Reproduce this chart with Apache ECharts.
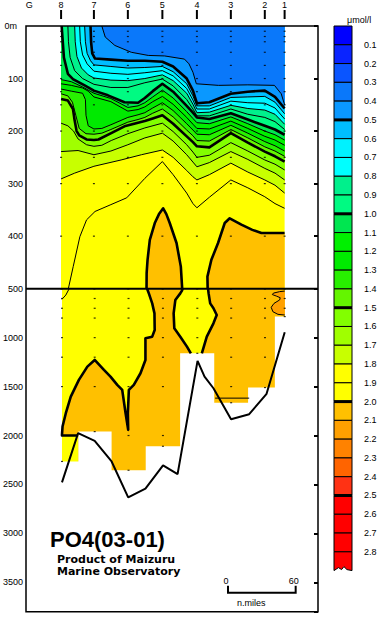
<!DOCTYPE html>
<html>
<head>
<meta charset="utf-8">
<title>PO4(03-01)</title>
<script src="https://cdn.jsdelivr.net/npm/echarts@6.0.0/dist/echarts.min.js"></script>
<style>
html,body{margin:0;padding:0;background:#ffffff;}
#chart{width:382px;height:619px;}
</style>
</head>
<body>
<div id="chart"></div>
<script>
// ================= DATA (distance in n.miles, depth in m) =================
const stationNames = ['8', '7', '6', '5', '4', '3', '2', '1'];
const stationX = [31, 60, 90, 120.5, 151, 181, 211, 228.5];
const stationBottom = [2265, 1960, 2355, 2110, 1160, 1665, 1510, 785];
const sampleDepths = [10, 20, 30, 50, 75, 100, 125, 150, 200, 250, 300, 400, 500, 600, 700, 800, 1000, 1200, 1500, 2000];
const extraLabel = { name: 'G', x: 2.9 };

const seabedX = [31, 45.3, 60, 75, 89.7, 105, 120.6, 133.5, 151.2, 157.4, 165.3, 180.9, 197, 212.4, 228.5];
const seabedDepth = [2479, 1976, 2054, 2265, 2632, 2543, 2305, 2394, 1238, 1398, 1517, 1833, 1782, 1574, 945];

// colour scale (µmol/l): band i covers [i/10, (i+1)/10)
const bandColors = [
  '#0000FF', '#0A24FF', '#0A55FF', '#0A78FA', '#0A98FF',
  '#00BEFF', '#00F2FF', '#00FFFF', '#00F08C', '#00FA82',
  '#00E650', '#00F000', '#00EA00', '#28F000', '#64F500',
  '#82FF00', '#A0FF00', '#C8FF00', '#FFFF00', '#FFFF00',
  '#FFC000', '#FFA000', '#FF8200', '#FF6400', '#FF3214',
  '#FF0000', '#FF0000', '#FF0000', '#FF0000'
];
const colorTicks = [0.1, 0.2, 0.3, 0.4, 0.5, 0.6, 0.7, 0.8, 0.9, 1.0, 1.1, 1.2, 1.3, 1.4, 1.5, 1.6, 1.7, 1.8, 1.9, 2.0, 2.1, 2.2, 2.3, 2.4, 2.5, 2.6, 2.7, 2.8];

// contour lines [distance, depth]
const contour04 = [[67,0],[70,21],[78.5,37],[93,50],[108,56],[122.5,57],[140,63],[144,72],[147.5,88],[150.5,110],[170,113],[196,112],[219.5,113],[225.5,129],[228.5,150]];
const contour05 = [[57,0],[57.5,30],[58.5,52],[61,62],[75,64],[90,66],[105,66],[120.5,68],[130,77],[142,100],[147.5,123],[151,147],[162,145],[181,129],[196,125],[211,123],[220,135],[228.5,157]];
const contour06 = [[51.8,0],[52.5,30],[54,52],[57,66],[60,74],[75,77],[90,80],[105,79],[120.5,77],[130,87],[142,110],[147.5,133],[151,152],[162,152],[181,136],[196,135],[211,134],[220,145],[228.5,167]];
const contour07 = [[47.4,0],[48,30],[50,55],[54,72],[60,86],[75,90],[90,92],[105,89],[120.5,85],[130,95],[142,119],[147.5,141],[151,158],[162,158],[181,143],[196,146],[211,147],[220,156],[228.5,177]];
const contour08 = [[43,0],[43.5,30],[45,58],[49,80],[55,93],[60,99],[75,103],[90,104],[105,100],[120.5,93],[130,104],[142,128],[147.5,149],[151,165],[162,164],[181,151],[196,157],[211,160],[220,168],[228.5,187]];
const contour09 = [[37,0],[37.5,30],[39,60],[43,85],[50,100],[60,111],[75,117],[90,117],[105,108],[120.5,101],[130,114],[142,140],[147.5,158],[151,171],[162,171],[181,158],[196,168],[211,174],[220,182],[228.5,197]];
const contour10 = [[31.5,0],[32.5,30],[33.5,60],[37,91],[41.5,101],[51.8,113],[60,123],[72.4,132],[87,145],[99,146],[105,137],[112,124],[120.5,110],[130,125],[142,152],[147.5,165],[151,174],[162,177],[181,166],[196,178],[211,190],[220,197],[228.5,207]];
const contour11 = [[31,102],[40,106],[50,116],[60,128],[75,138],[90,155],[99,152],[105,146],[112,135],[120.5,122],[130,137],[142,163],[147.5,176],[151,184],[162,186],[181,173],[196,186],[211,200],[220,207],[228.5,217]];
const contour12 = [[31,110],[40,113],[50,118],[55,124],[60,135],[75,144],[90,162],[99,159],[105,154],[112,144],[120.5,134],[130,149],[142,174],[147.5,187],[151,195],[162,196],[181,181],[196,195],[211,210],[220,217],[228.5,227]];
const contour13 = [[31,120],[40,124],[50,128],[52.5,140],[53,170],[55,190],[60,196],[67,195],[75,188],[90,174],[99,169],[105,165],[112,156],[120.5,146],[130,161],[142,186],[147.5,198],[151,206],[162,207],[181,189],[196,204],[211,220],[220,228],[228.5,238]];
const contour14 = [[31,129],[37,133],[41,145],[44,170],[47,195],[53,205],[60,206],[67,204],[75,197],[90,183],[99,178],[105,174],[112,166],[120.5,158],[130,173],[142,198],[147.5,209],[151,218],[162,219],[181,197],[196,213],[211,230],[220,238],[228.5,248]];
const contour15 = [[31,139],[37,142],[41.5,158],[43,180],[44.7,200],[47,208],[53.5,216],[60,217],[64,216],[75.3,204],[87,191],[99,184],[105,181],[112,176],[120.5,170],[130,186],[142,210],[147.5,221],[151,229],[162,231],[181,204],[196,222],[211,239],[220,248],[228.5,258]];
const contour16 = [[31,185],[37,190],[42,200],[46,215],[53.5,226],[60,229],[67,227],[75.3,218],[90,205],[105,194],[120.5,185],[130,201],[142,226],[147.5,240],[151,250],[162,246],[181,222],[196,238],[211,255],[220,263],[228.5,274]];
const contour17 = [[31,239],[46,237],[60,245],[75,238],[90,226],[105,213],[120.5,204],[130,219],[142,245],[147.5,259],[151,268],[162,260],[181,239],[196,254],[211,271],[220,280],[228.5,293]];
const contour18 = [[31,291],[43,280],[60,267],[84,255],[102,245],[120.5,236],[130,250],[142,275],[147.5,287],[151,293],[162,283],[181,261],[196,278],[211,293],[220,303],[228.5,318]];
const contour19 = [[31,608],[34.4,565],[37.4,500],[41.7,458],[47.6,401],[53.5,369],[61,353],[75,340],[89,327],[105,290],[120.5,258],[130,283],[142,318],[147.5,338],[151,346],[162,326],[181,293],[196,308],[211,325],[220,338],[228.5,347]];

// 2.0 contours (higher values enclosed below / inside)
const contour20West = [[45.3,2000],[31,2000],[31,1993],[31.5,1908],[34.4,1772],[38.8,1602],[46,1432],[53.5,1296],[60,1228],[68.2,1330],[74,1398],[80,1483],[84.4,1534],[87.4,1772],[89.7,1942],[89.4,1772],[90.3,1534],[94.7,1483],[100.6,1364],[105,1228],[105,1007],[111,990],[113.2,922],[113,752],[111,650],[108,548],[106.5,500],[106.6,470],[107.4,445],[109.4,407],[113.8,375],[117.5,358],[121.2,347],[124,358],[127,375],[133,413],[136.8,458],[138,500],[137.4,520],[135.9,548],[131.5,616],[130,752],[130.6,905],[135.9,990],[141.8,1092],[145.3,1160]];
const contour20East = [[155,1160],[159.4,990],[165.3,854],[168.2,769],[165.3,700],[162.4,650],[161,548],[160.5,500],[160.3,477],[163.8,445],[169.7,413],[175.6,375],[180,366],[190.3,378],[200,388],[208,394],[219.7,394],[228.5,394]];
const contour21 = [[228.5,524],[224,530],[218.5,545],[217.5,560],[221,575],[224.5,592],[224,615],[219,650],[216.5,690],[218,735],[222.5,762],[228.5,769]];
const station3Line = [[166.8,1618],[197,1618]];

const upperContours = [
  { level: 1.9, pts: contour19 }, { level: 1.8, pts: contour18 }, { level: 1.7, pts: contour17 },
  { level: 1.6, pts: contour16 }, { level: 1.5, pts: contour15 }, { level: 1.4, pts: contour14 },
  { level: 1.3, pts: contour13 }, { level: 1.2, pts: contour12 }, { level: 1.1, pts: contour11 },
  { level: 1.0, pts: contour10 }, { level: 0.9, pts: contour09 }, { level: 0.8, pts: contour08 },
  { level: 0.7, pts: contour07 }, { level: 0.6, pts: contour06 }, { level: 0.5, pts: contour05 },
  { level: 0.4, pts: contour04 }
];

const scaleBar = { start: 178.2, length: 60, depth: 3606 };

// ================= BUILD =================
const DEPTH_MAX = 3800;
const X_MAX = 258;
const xLeft = stationX[0], xRight = stationX[stationX.length - 1];
const FONT = '"Liberation Sans", Arial, Helvetica, sans-serif';

function bandColor(level) { return bandColors[Math.round(level * 10) - 1]; }
function closeDown(pts) {
  const a = pts[0], b = pts[pts.length - 1];
  return pts.concat([[b[0], DEPTH_MAX], [a[0], DEPTH_MAX]]);
}
function maskPolygon() {
  const n = stationX.length, pad = 3, pts = [[xLeft - pad, DEPTH_MAX]];
  for (let i = 0; i < n; i++) {
    const L = i === 0 ? stationX[0] - pad : (stationX[i - 1] + stationX[i]) / 2;
    const R = i === n - 1 ? stationX[n - 1] + pad : (stationX[i] + stationX[i + 1]) / 2;
    pts.push([L, stationBottom[i]], [R, stationBottom[i]]);
  }
  pts.push([xRight + pad, DEPTH_MAX]);
  return pts;
}

const fillShapes = [];
fillShapes.push({ pts: [[xLeft, 0], [xRight, 0], [xRight, DEPTH_MAX], [xLeft, DEPTH_MAX]], color: bandColors[19] });
upperContours.forEach(c => fillShapes.push({ pts: c.pts.concat([[xRight, 0], [xLeft, 0]]), color: bandColor(c.level) }));
fillShapes.push({ pts: closeDown(contour20West), color: bandColors[20] });
fillShapes.push({ pts: closeDown(contour20East), color: bandColors[20] });
fillShapes.push({ pts: contour21, color: bandColors[21] });
fillShapes.push({ pts: maskPolygon(), color: '#FFFFFF' });

const lineShapes = [];
upperContours.forEach(c => {
  const thick = Math.abs(c.level * 2 - Math.round(c.level * 2)) < 1e-6;
  lineShapes.push({ pts: c.pts, w: thick ? 2.6 : 1 });
});
lineShapes.push({ pts: contour20West, w: 2.6 });
lineShapes.push({ pts: contour20East, w: 2.6 });
lineShapes.push({ pts: contour21, w: 1 });
lineShapes.push({ pts: station3Line, w: 1 });

const samplePoints = [];
stationX.forEach((x, i) => {
  sampleDepths.forEach(d => { if (d < stationBottom[i] - 20) samplePoints.push([x, d]); });
  samplePoints.push([x, stationBottom[i]]);
});
const seabed = seabedX.map((x, i) => [x, seabedDepth[i]]);

function clipRect(params) {
  const c = params.coordSys;
  return { type: 'rect', shape: { x: c.x, y: c.y, width: c.width, height: c.height } };
}
function fillSeries(g) {
  return {
    type: 'custom', xAxisIndex: g, yAxisIndex: g * 2, silent: true, z: 1, clip: true,
    data: fillShapes.map((s, i) => [i]),
    renderItem: (params, api) => {
      const s = fillShapes[params.dataIndex];
      return {
        type: 'polygon', z2: params.dataIndex, clipPath: clipRect(params),
        shape: { points: s.pts.map(p => api.coord(p)) },
        style: { fill: s.color, stroke: null }
      };
    }
  };
}
function lineSeries(g) {
  return {
    type: 'custom', xAxisIndex: g, yAxisIndex: g * 2, silent: true, z: 3, clip: true,
    data: lineShapes.map((s, i) => [i]),
    renderItem: (params, api) => {
      const s = lineShapes[params.dataIndex];
      return {
        type: 'polyline', clipPath: clipRect(params),
        shape: { points: s.pts.map(p => api.coord(p)) },
        style: { fill: 'none', stroke: '#000', lineWidth: s.w, lineJoin: 'round' }
      };
    }
  };
}
function dotSeries(g) {
  return {
    type: 'scatter', xAxisIndex: g, yAxisIndex: g * 2, silent: true, z: 4, clip: true,
    symbol: 'rect', symbolSize: [2, 1.2], itemStyle: { color: '#000' }, data: samplePoints
  };
}

const chart = echarts.init(document.getElementById('chart'), null, { renderer: 'svg' });

const axisTextStyle = { color: '#000', fontSize: 9, fontFamily: FONT };

const option = {
  backgroundColor: '#ffffff',
  animation: false,
  grid: [
    { left: 26, top: 26, width: 292, height: 262.7 },
    { left: 26, top: 288.7, width: 292, height: 323 },
    { left: 334, top: 26, width: 18, height: 544.6 }
  ],
  xAxis: [
    { gridIndex: 0, type: 'value', min: 0, max: X_MAX, show: false },
    { gridIndex: 1, type: 'value', min: 0, max: X_MAX, show: false },
    { gridIndex: 2, type: 'value', min: 0, max: 1, show: false }
  ],
  yAxis: [
    { gridIndex: 0, type: 'value', inverse: true, min: 0, max: 500, interval: 100, position: 'left',
      axisLine: { show: false }, axisTick: { show: false }, splitLine: { show: false },
      axisLabel: Object.assign({ margin: 3, showMaxLabel: false,
        formatter: v => v === 0 ? '{z|0m}' : (v >= 500 ? '' : String(v)),
        rich: { z: { fontSize: 9, fontFamily: FONT, color: '#000', padding: [0, 6, 0, 0] } } }, axisTextStyle) },
    { gridIndex: 0, type: 'value', inverse: true, min: 0, max: 500, interval: 100, position: 'right',
      axisLine: { show: false }, axisLabel: { show: false }, splitLine: { show: false },
      axisTick: { show: true, inside: true, length: 4, lineStyle: { color: '#000', width: 2 } } },
    { gridIndex: 1, type: 'value', inverse: true, min: 500, max: DEPTH_MAX, interval: 500, position: 'left',
      axisLine: { show: false }, axisTick: { show: false }, splitLine: { show: false },
      axisLabel: Object.assign({ margin: 4, showMaxLabel: false,
        formatter: v => (v % 500 === 0 && v < DEPTH_MAX) ? String(v) : '' }, axisTextStyle) },
    { gridIndex: 1, type: 'value', inverse: true, min: 500, max: DEPTH_MAX, interval: 500, position: 'right',
      axisLine: { show: false }, axisLabel: { show: false }, splitLine: { show: false },
      axisTick: { show: true, inside: true, length: 4, lineStyle: { color: '#000', width: 2 } } },
    { gridIndex: 2, type: 'value', inverse: true, min: 0, max: 2.9, interval: 0.1, position: 'right',
      axisLine: { show: false }, axisTick: { show: false }, splitLine: { show: false },
      axisLabel: Object.assign({ margin: 12,
        formatter: v => { const t = colorTicks.find(c => Math.abs(c - v) < 1e-6); return t === undefined ? '' : t.toFixed(1); } }, axisTextStyle) }
  ],
  series: [
    fillSeries(0), fillSeries(1),
    lineSeries(0), lineSeries(1),
    dotSeries(0), dotSeries(1),
    { type: 'line', xAxisIndex: 1, yAxisIndex: 2, data: seabed, symbol: 'none', silent: true, z: 5, clip: true,
      lineStyle: { color: '#000', width: 2 } },
    // station ticks and names along the top
    { type: 'custom', xAxisIndex: 0, yAxisIndex: 0, silent: true, z: 6, clip: false,
      data: [[extraLabel.x]].concat(stationX.map(x => [x])),
      renderItem: (params, api) => {
        const i = params.dataIndex;
        const p = api.coord([api.value(0), 0]);
        const name = i === 0 ? extraLabel.name : stationNames[i - 1];
        const children = [{ type: 'text', style: { text: name, x: p[0], y: p[1] - 21, align: 'center', verticalAlign: 'middle', font: '9px ' + FONT, fill: '#000' } }];
        if (i > 0) children.push({ type: 'rect', shape: { x: p[0] - 1, y: p[1] - 16, width: 2, height: 9 }, style: { fill: '#000' } });
        return { type: 'group', children };
      } },
    // colour scale boxes
    { type: 'custom', xAxisIndex: 2, yAxisIndex: 4, silent: true, z: 6, clip: false,
      data: bandColors.map((c, i) => [i]),
      renderItem: (params, api) => {
        const i = params.dataIndex;
        const a = api.coord([0, i / 10]), b = api.coord([1, (i + 1) / 10]);
        const x0 = a[0], x1 = b[0], y0 = a[1], y1 = b[1], w = x1 - x0;
        let pts;
        if (i === bandColors.length - 1) {
          pts = [[x0, y0], [x1, y0], [x1, y1], [x0 + 0.72 * w, y1 - 1], [x0 + 0.55 * w, y1 - 4], [x0 + 0.42 * w, y1 - 1], [x0 + 0.25 * w, y1 - 3], [x0, y1]];
        } else {
          pts = [[x0, y0], [x1, y0], [x1, y1], [x0, y1]];
        }
        const children = [{ type: 'polygon', shape: { points: pts }, style: { fill: bandColors[i], stroke: '#000', lineWidth: 1 }, z2: 1 }];
        if ((i + 1) % 5 === 0 && i < bandColors.length - 1) {
          children.push({ type: 'line', shape: { x1: x0, y1: y1, x2: x1, y2: y1 }, style: { stroke: '#000', lineWidth: 3 }, z2: 5 });
        }
        return { type: 'group', children };
      } },
    // distance scale bar
    { type: 'custom', xAxisIndex: 1, yAxisIndex: 2, silent: true, z: 6, clip: false,
      data: [[scaleBar.start, scaleBar.depth]],
      renderItem: (params, api) => {
        const p0 = api.coord([scaleBar.start, scaleBar.depth]);
        const p1 = api.coord([scaleBar.start + scaleBar.length, scaleBar.depth]);
        return { type: 'group', children: [
          { type: 'polyline', shape: { points: [[p0[0], p0[1] - 7], p0, p1, [p1[0], p1[1] - 7]] }, style: { fill: 'none', stroke: '#000', lineWidth: 2 } },
          { type: 'text', style: { text: '0', x: p0[0] - 2, y: p0[1] - 12, align: 'center', verticalAlign: 'middle', font: '9px ' + FONT, fill: '#000' } },
          { type: 'text', style: { text: String(scaleBar.length), x: p1[0] - 2, y: p1[1] - 12, align: 'center', verticalAlign: 'middle', font: '9px ' + FONT, fill: '#000' } },
          { type: 'text', style: { text: 'n.miles', x: p0[0] + 9, y: p0[1] + 10, align: 'left', verticalAlign: 'middle', font: '9px ' + FONT, fill: '#000' } }
        ] };
      } }
  ],
  graphic: [
    { type: 'rect', z: 100, silent: true, shape: { x: 26, y: 26, width: 292, height: 585.7 }, style: { fill: 'none', stroke: '#000', lineWidth: 1.5 } },
    { type: 'line', z: 100, silent: true, shape: { x1: 26, y1: 288.7, x2: 318, y2: 288.7 }, style: { stroke: '#000', lineWidth: 2 } },
    { type: 'text', z: 100, silent: true, style: { text: 'μmol/l', x: 347, y: 20, verticalAlign: 'middle', font: '9px ' + FONT, fill: '#000' } },
    { type: 'text', z: 100, silent: true, style: { text: 'PO4(03-01)', x: 50, y: 539, verticalAlign: 'middle', font: 'bold 22px ' + FONT, fill: '#000' } },
    { type: 'text', z: 100, silent: true, style: { text: 'Product of Maizuru', x: 57, y: 559.5, verticalAlign: 'middle', font: 'bold 11px "DejaVu Sans", sans-serif', fill: '#000' } },
    { type: 'text', z: 100, silent: true, style: { text: 'Marine Observatory', x: 57, y: 571, verticalAlign: 'middle', font: 'bold 11px "DejaVu Sans", sans-serif', fill: '#000' } }
  ]
};
chart.setOption(option);
</script>
</body>
</html>
